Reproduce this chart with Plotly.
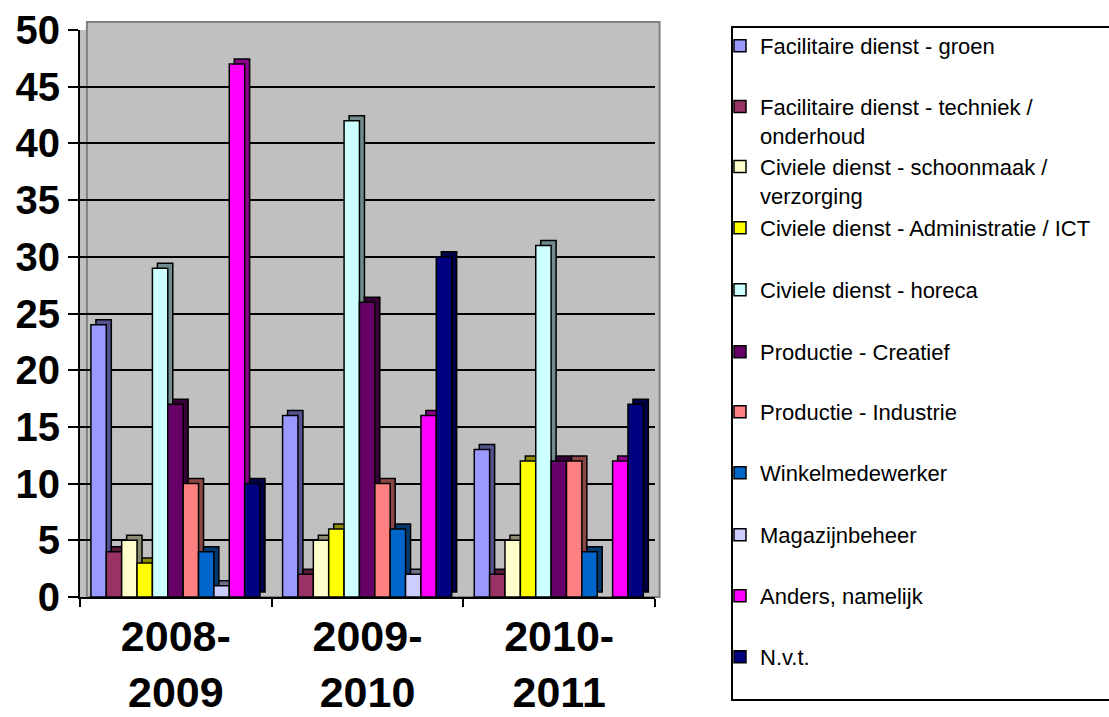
import plotly.graph_objects as go

# ---------------- data ----------------
categories = ["2008-<br>2009", "2009-<br>2010", "2010-<br>2011"]

series_names = [
    "Facilitaire dienst - groen",
    "Facilitaire dienst - techniek /<br>onderhoud",
    "Civiele dienst - schoonmaak /<br>verzorging",
    "Civiele dienst - Administratie / ICT",
    "Civiele dienst - horeca",
    "Productie - Creatief",
    "Productie - Industrie",
    "Winkelmedewerker",
    "Magazijnbeheer",
    "Anders, namelijk",
    "N.v.t.",
]

groen = [24, 16, 13]
techniek = [4, 2, 2]
schoonmaak = [5, 5, 5]
administratie = [3, 6, 12]
horeca = [29, 42, 31]
creatief = [17, 26, 12]
industrie = [10, 10, 12]
winkel = [4, 6, 4]
magazijn = [1, 2, 0]
anders = [47, 16, 12]
nvt = [10, 30, 17]

series_values = [groen, techniek, schoonmaak, administratie, horeca, creatief,
                 industrie, winkel, magazijn, anders, nvt]

y_ticks = list(range(0, 51, 5))

# ---------------- style ----------------
colors = ["#9999FF", "#993366", "#FFFFCC", "#FFFF00", "#CCFFFF", "#660066",
          "#FF8080", "#0066CC", "#CCCCFF", "#FF00FF", "#000080"]

FONT = "Liberation Sans, Arial, sans-serif"
W, H = 1109, 717
ML, MR, MT, MB = 80, 454, 30, 120
plot_w = W - ML - MR
plot_h = H - MT - MB

bar_w = 0.0802           # width of each bar in category units
first_off = -0.443       # offset of first bar from category centre
depth_x = 5 / (plot_w / 3)      # 3D depth in category units (~5px)
depth_y = 5 / (plot_h / 50)     # 3D depth in value units (~5px)


def darker(hexcol, f=0.5):
    h = hexcol.lstrip("#")
    r, g, b = (int(h[i:i + 2], 16) for i in (0, 2, 4))
    return "rgb(%d,%d,%d)" % (int(r * f), int(g * f), int(b * f))


fig = go.Figure()

for i, (name, vals, col) in enumerate(zip(series_names, series_values, colors)):
    off = first_off + i * bar_w
    # depth (side/top) face drawn first, offset back-right
    fig.add_trace(go.Bar(
        x=categories, y=[v if v else None for v in vals],
        base=depth_y, offset=off + depth_x, width=bar_w,
        marker=dict(color=darker(col, 0.55), line=dict(color="black", width=1.5)),
        showlegend=False, hoverinfo="skip",
    ))
    legend_id = "legend" if i == 0 else "legend%d" % (i + 1)
    fig.add_trace(go.Bar(
        x=categories, y=[v if v else None for v in vals],
        offset=off, width=bar_w, name=name,
        marker=dict(color=col, line=dict(color="black", width=1.5)),
        legend=legend_id,
    ))

# legend positions (first text line centre, px from top) and line counts
legend_rows = [46, 107, 167, 228, 290, 352, 412, 473, 535, 596, 657]
LEG_FS = 22
legend_layouts = {}
for i, (yc, name) in enumerate(zip(legend_rows, series_names)):
    nlines = name.count("<br>") + 1
    ymid = yc + (nlines - 1) * LEG_FS * 1.3 / 2
    legend_id = "legend" if i == 0 else "legend%d" % (i + 1)
    legend_layouts[legend_id] = dict(
        xref="container", yref="container",
        x=720 / W, y=1 - ymid / H, xanchor="left", yanchor="middle",
        bgcolor="rgba(0,0,0,0)", borderwidth=0, valign="top",
        font=dict(family=FONT, size=LEG_FS, color="black"),
    )

fig.update_layout(
    width=W, height=H,
    margin=dict(l=ML, r=MR, t=MT, b=MB, autoexpand=False),
    paper_bgcolor="white",
    plot_bgcolor="#C0C0C0",
    barmode="overlay",
    font=dict(family=FONT, color="black"),
    **legend_layouts,
)

fig.update_xaxes(
    type="category", range=[-0.5, 2.5], automargin=False,
    showline=True, linecolor="black", linewidth=2,
    ticks="outside", tickson="boundaries", ticklen=8, tickwidth=2, tickcolor="black",
    tickfont=dict(family=FONT, size=43, color="black", weight="bold"),
    ticklabelstandoff=0,
    showgrid=False,
)
fig.update_yaxes(
    range=[0, 50], tickvals=y_ticks, automargin=False,
    showline=True, linecolor="black", linewidth=2,
    ticks="outside", ticklen=10, tickwidth=2, tickcolor="black",
    tickfont=dict(family=FONT, size=40, color="black", weight="bold"),
    showgrid=True, gridcolor="black", gridwidth=2,
    zeroline=False,
)

# back wall of the 3D plot area
fig.add_shape(type="rect", xref="paper", yref="paper",
              x0=0.012, x1=1.008, y0=-0.0, y1=1.014,
              line=dict(color="#808080", width=2), fillcolor="#C0C0C0", layer="below")
# legend frame
fig.add_shape(type="rect", xref="paper", yref="paper",
              x0=(732 - ML) / plot_w, x1=(1120 - ML) / plot_w,
              y0=(MT + plot_h - 700) / plot_h, y1=(MT + plot_h - 27) / plot_h,
              line=dict(color="black", width=2), fillcolor="rgba(0,0,0,0)")

fig.write_html(
    "out.html",
    config={"displayModeBar": False},
    post_script="document.body.style.margin='0px';document.body.style.overflow='hidden';",
)
